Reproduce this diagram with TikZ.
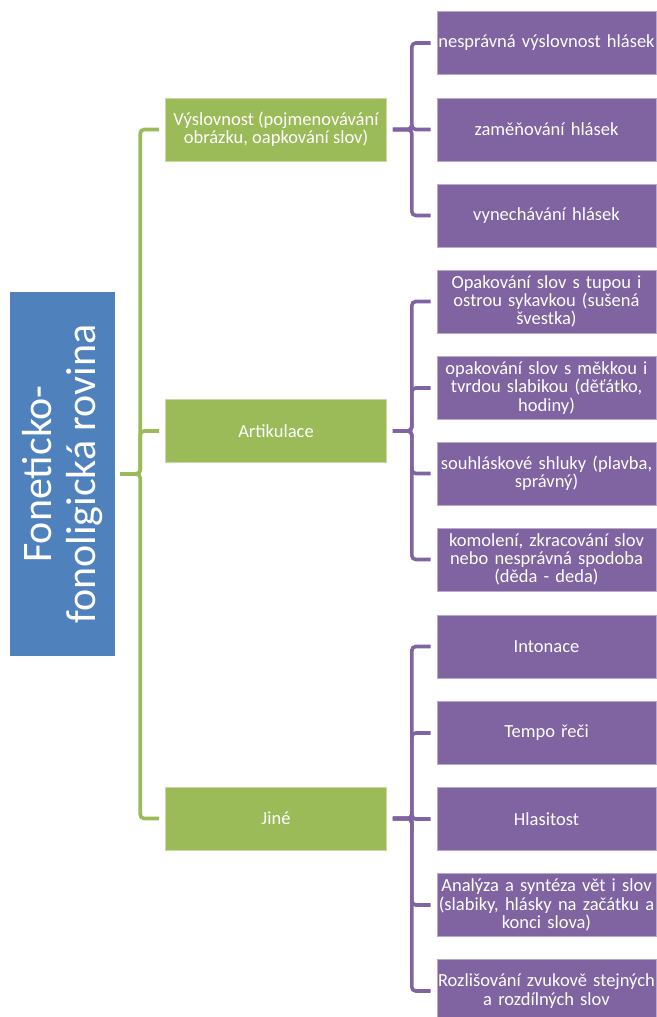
\documentclass[tikz,border=0pt]{standalone}
\usepackage{fontspec}
\setmainfont{Carlito}
\definecolor{rovinamodra}{HTML}{4F81BD}
\definecolor{oblastzelena}{HTML}{9BBB59}
\definecolor{jevfialova}{HTML}{8064A2}
\tikzset{
  rovina/.style={fill=rovinamodra, text=white, rotate=90, minimum width=364pt, minimum height=105pt, inner sep=0pt, align=center, font=\fontsize{42}{44}\selectfont},
  oblast/.style={fill=oblastzelena, draw=oblastzelena!55!white, line width=0.6pt, text=white, minimum width=221pt, minimum height=63pt, inner sep=0pt, align=center, font=\fontsize{18.5}{18.3}\selectfont},
  jev/.style={fill=jevfialova, draw=jevfialova!55!white, line width=0.6pt, text=white, minimum width=219pt, minimum height=63pt, inner sep=0pt, text width=217pt, align=center, font=\fontsize{18.5}{18.3}\selectfont},
  zvetev/.style={draw=oblastzelena, line width=3.6pt, rounded corners=4pt},
  fvetev/.style={draw=jevfialova, line width=3.6pt, rounded corners=4pt}
}
\begin{document}
\begin{tikzpicture}[x=1pt, y=-1pt]
		\useasboundingbox (0,0) rectangle (656,1017);
		\node [rovina] (fon) at (62.5,474) {Foneticko-\\fonoligická rovina};
		\node [oblast] (vys) at (276,129.5) {Výslovnost (pojmenovávání\\obrázku, oapkování slov)};
		\node [oblast] (art) at (276,431) {Artikulace};
		\node [oblast] (jin) at (276,818.5) {Jiné};
		\node [jev] (v1) at (546.5,43) {nesprávná výslovnost hlásek};
		\node [jev] (v2) at (546.5,129.5) {zaměňování hlásek};
		\node [jev] (v3) at (546.5,215.5) {vynechávání hlásek};
		\node [jev] (a1) at (546.5,301.5) {Opakování slov s tupou i\\ostrou sykavkou (sušená\\švestka)};
		\node [jev] (a2) at (546.5,388) {opakování slov s měkkou i\\tvrdou slabikou (děťátko,\\hodiny)};
		\node [jev] (a3) at (546.5,473.5) {souhláskové shluky (plavba,\\správný)};
		\node [jev] (a4) at (546.5,559.5) {komolení, zkracování slov\\nebo nesprávná spodoba\\(děda - deda)};
		\node [jev] (j1) at (546.5,646.5) {Intonace};
		\node [jev] (j2) at (546.5,733) {Tempo řeči};
		\node [jev] (j3) at (546.5,819) {Hlasitost};
		\node [jev] (j4) at (546.5,905) {Analýza a syntéza vět i slov\\(slabiky, hlásky na začátku a\\konci slova)};
		\node [jev] (j5) at (546.5,991) {Rozlišování zvukově stejných\\a rozdílných slov};
		\foreach \o in {vys,art,jin}
			\draw [zvetev] ([xshift=5pt]fon.south) -- ++(20,0) |- ([xshift=-6pt]\o.west);
		\foreach \j in {v1,v2,v3}
			\draw [fvetev] ([xshift=6pt]vys.east) -- ++(19,0) |- ([xshift=-6pt]\j.west);
		\foreach \j in {a1,a2,a3,a4}
			\draw [fvetev] ([xshift=6pt]art.east) -- ++(19,0) |- ([xshift=-6pt]\j.west);
		\foreach \j in {j1,j2,j3,j4,j5}
			\draw [fvetev] ([xshift=6pt]jin.east) -- ++(19,0) |- ([xshift=-6pt]\j.west);
\end{tikzpicture}
\end{document}
